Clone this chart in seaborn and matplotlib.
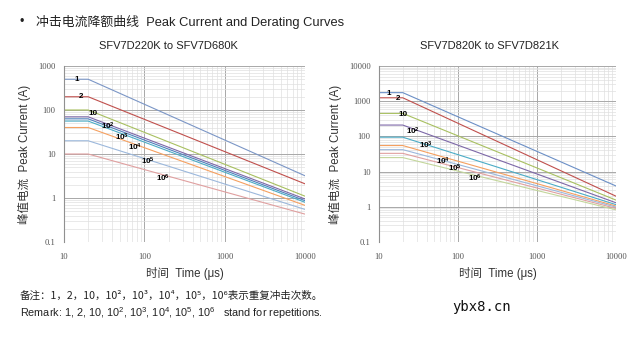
import numpy as np
import pandas as pd
import matplotlib
matplotlib.use("Agg")
import matplotlib.pyplot as plt
import seaborn as sns
from matplotlib.ticker import NullFormatter, LogLocator

sns.set_theme(style="white")
plt.rcParams["font.family"] = ["Liberation Sans", "Noto Sans CJK SC", "DejaVu Sans"]
plt.rcParams["mathtext.fontset"] = "custom"
plt.rcParams["mathtext.rm"] = "Liberation Sans"
plt.rcParams["mathtext.it"] = "Liberation Sans"
plt.rcParams["mathtext.bf"] = "Liberation Sans:bold"

# Pulse time axis: flat to the knee, then linear on log-log to the end
t_start, t_knee, t_end = 10, 20, 10000

reps = ["s1", "s2", "s3", "s4", "s5", "s6", "s7", "s8", "s9"]

# SFV7D220K to SFV7D680K
left_peak = [500, 200, 100, 70, 63, 56, 40, 20, 10]
left_tail = [3.2, 2.1, 1.1, 0.95, 0.87, 0.8, 0.68, 0.55, 0.43]
left_colors = ["#7b96c6", "#c0504d", "#a8c060", "#7d68a8", "#4f81bd",
               "#4bacc6", "#f5a060", "#9cb8dc", "#e0a0a0"]

# SFV7D820K to SFV7D821K
right_peak = [1750, 1250, 450, 210, 95, 55, 42, 33, 25]
right_tail = [3.9, 2.0, 1.55, 1.3, 1.15, 1.05, 0.98, 0.9, 0.82]
right_colors = ["#6b8fc6", "#c0504d", "#a8c060", "#7d68a8", "#4bacc6",
                "#f5a060", "#9cb8dc", "#e0a0a0", "#c3d69b"]

curve_labels = ["1", "2", "10", r"10$^{\mathbf{2}}$", r"10$^{\mathbf{3}}$",
                r"10$^{\mathbf{4}}$", r"10$^{\mathbf{5}}$", r"10$^{\mathbf{6}}$"]
left_label_x = [14.5, 16.3, 23, 35, 53, 77, 111, 171]
left_label_y = [500, 200, 85, 43, 24, 14, 6.9, 2.8]
right_label_x = [13.4, 17.4, 20, 27, 39, 65, 91, 163]
right_label_y = [1700, 1230, 410, 142, 54, 20, 12.6, 6.6]


def curves_frame(peaks, tails):
    rows = []
    for name, p, e in zip(reps, peaks, tails):
        rows += [(name, t_start, p), (name, t_knee, p), (name, t_end, e)]
    return pd.DataFrame(rows, columns=["rep", "time", "current"])


def draw_panel(ax, peaks, tails, colors, ymin, ymax, lx, ly):
    df = curves_frame(peaks, tails)
    names = reps[:len(peaks)]
    sns.lineplot(data=df, x="time", y="current", hue="rep", hue_order=names,
                 palette=colors[:len(peaks)], ax=ax, legend=False,
                 linewidth=0.8, sort=False, estimator=None)
    ax.set_xscale("log")
    ax.set_yscale("log")
    ax.set_xlim(t_start, t_end)
    ax.set_ylim(ymin, ymax)

    xt = [10, 100, 1000, 10000]
    yt = [10.0 ** k for k in range(int(np.log10(ymin)), int(np.log10(ymax)) + 1)]
    ax.xaxis.set_minor_locator(LogLocator(base=10, subs=np.arange(2, 10)))
    ax.yaxis.set_minor_locator(LogLocator(base=10, subs=np.arange(2, 10)))
    ax.xaxis.set_minor_formatter(NullFormatter())
    ax.yaxis.set_minor_formatter(NullFormatter())
    ax.set_xticks(xt)
    ax.set_xticklabels([str(v) for v in xt])
    ax.set_yticks(yt)
    ax.set_yticklabels([("%g" % v) for v in yt])
    ax.tick_params(which="both", length=0, labelsize=6.2, colors="#555555", pad=6)
    ax.tick_params(axis="x", pad=8)
    for lab in ax.get_xticklabels() + ax.get_yticklabels():
        lab.set_family("Liberation Serif")

    ax.grid(which="major", color="#a8a8a8", linewidth=0.7)
    ax.grid(which="minor", color="#e0e0e0", linewidth=0.5)
    ax.set_axisbelow(True)
    for s in ax.spines.values():
        s.set_visible(False)
    ax.spines["left"].set_visible(True)
    ax.spines["left"].set_color("#909090")
    ax.spines["left"].set_linewidth(0.8)

    ax.set_xlabel("时间  Time (μs)", fontsize=8.3, color="#333333", labelpad=4)
    ax.set_ylabel("峰值电流  Peak Current (A)", fontsize=8.3, color="#333333",
                  labelpad=5)

    for txt, x, y in zip(curve_labels, lx, ly):
        ax.text(x, y, txt, fontsize=5.8, fontweight="bold", color="black",
                ha="center", va="center")


fig = plt.figure(figsize=(6.32, 3.38), dpi=100)
fig.patch.set_facecolor("white")

ax1 = fig.add_axes([64 / 632, 96 / 338, 241 / 632, 176 / 338])
ax2 = fig.add_axes([379 / 632, 96 / 338, 237 / 632, 176 / 338])

draw_panel(ax1, left_peak, left_tail, left_colors, 0.1, 1000,
           left_label_x, left_label_y)
draw_panel(ax2, right_peak, right_tail, right_colors, 0.1, 10000,
           right_label_x, right_label_y)

W, H = 632, 338

fig.text(20 / W, 1 - 22 / H, "•", fontsize=9, va="center", ha="left", color="#222222")
fig.text(36 / W, 1 - 22 / H, "冲击电流降额曲线  Peak Current and Derating Curves",
         fontsize=9.3, va="center", ha="left", color="#222222")

fig.text(168 / W, 1 - 46 / H, "SFV7D220K to SFV7D680K", fontsize=8,
         ha="center", va="center", color="#222222")
fig.text(490 / W, 1 - 46 / H, "SFV7D820K to SFV7D821K", fontsize=8,
         ha="center", va="center", color="#222222")

fig.text(20 / W, 1 - 296 / H,
         "备注：1，2，10，10²，10³，10⁴，10⁵，10⁶表示重复冲击次数。",
         fontsize=7.6, ha="left", va="center", color="#222222",
         family=["Noto Sans CJK SC", "DejaVu Sans"])
fig.text(20 / W, 1 - 313 / H,
         r"Remark: 1, 2, 10, 10$^{2}$, 10$^{3}$, 10$^{4}$, 10$^{5}$, 10$^{6}$   stand for repetitions.",
         fontsize=7.8, ha="left", va="center", color="#222222")
fig.text(482 / W, 1 - 307 / H, "ybx8.cn", fontsize=10, ha="center",
         va="center", color="#111111", family="DejaVu Sans Mono")

fig.savefig("out.png", dpi=100, facecolor="white")
